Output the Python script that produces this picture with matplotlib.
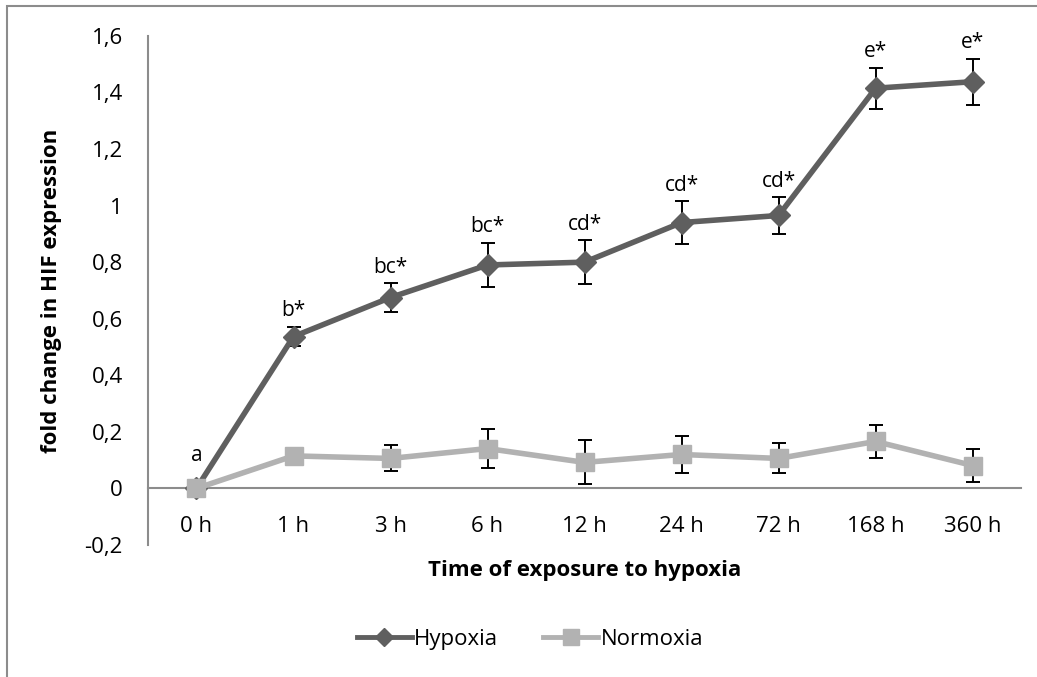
import numpy as np
import matplotlib.pyplot as plt
from matplotlib.patches import Rectangle
from matplotlib.lines import Line2D

plt.rcParams['font.family'] = ['Open Sans', 'DejaVu Sans']

times = ['0 h', '1 h', '3 h', '6 h', '12 h', '24 h', '72 h', '168 h', '360 h']
hypoxia = [0.0, 0.537, 0.675, 0.79, 0.80, 0.94, 0.965, 1.415, 1.438]
hypoxia_err = [0.0, 0.035, 0.05, 0.078, 0.078, 0.075, 0.065, 0.072, 0.081]
normoxia = [0.0, 0.115, 0.106, 0.141, 0.092, 0.12, 0.106, 0.166, 0.081]
normoxia_err = [0.0, 0.0, 0.046, 0.069, 0.078, 0.067, 0.053, 0.057, 0.06]
letters = ['a', 'b*', 'bc*', 'bc*', 'cd*', 'cd*', 'cd*', 'e*', 'e*']

dark = '#5f5f5f'
light = '#b2b2b2'

fig = plt.figure(figsize=(10.37, 6.77), dpi=100)
ax = fig.add_axes([0.1427, 0.195, 0.842, 0.752])

x = np.arange(len(times))

ax.errorbar(x, hypoxia, yerr=hypoxia_err, fmt='none', ecolor='black',
            elinewidth=1.4, capsize=5, capthick=1.4, zorder=2)
ax.errorbar(x, normoxia, yerr=normoxia_err, fmt='none', ecolor='black',
            elinewidth=1.4, capsize=5, capthick=1.4, zorder=2)
ax.plot(x, hypoxia, color=dark, lw=4, marker='D', ms=11, zorder=4,
        label='Hypoxia')
ax.plot(x, normoxia, color=light, lw=4, marker='s', ms=13, zorder=5,
        label='Normoxia')

# significance letters above the hypoxia error bars
for xi, v, e, t in zip(x, hypoxia, hypoxia_err, letters):
    off = 4 if e > 0 else 16
    ax.annotate(t, (xi, v + e), xytext=(0, off), textcoords='offset points',
                ha='center', va='bottom', fontsize=15)

ax.set_xlim(-0.5, len(times) - 0.5)
ax.set_ylim(-0.2, 1.6)
ax.set_xticks(x)
ax.set_xticklabels(times)
ax.set_yticks(np.arange(-0.2, 1.61, 0.2))
ax.set_yticklabels(['-0,2', '0', '0,2', '0,4', '0,6', '0,8', '1', '1,2', '1,4', '1,6'])
ax.tick_params(length=0, labelsize=16)
ax.tick_params(axis='y', pad=18)
ax.tick_params(axis='x', pad=20)

for s in ['top', 'right']:
    ax.spines[s].set_visible(False)
ax.spines['bottom'].set_position(('data', 0))
ax.spines['left'].set_color('#8c8c8c')
ax.spines['bottom'].set_color('#8c8c8c')
ax.spines['left'].set_linewidth(1.5)
ax.spines['bottom'].set_linewidth(1.5)

fig.text(0.05, 0.57, 'fold change in HIF expression', rotation=90,
         ha='center', va='center', fontsize=16, fontweight='bold')
fig.text(0.564, 0.157, 'Time of exposure to hypoxia', ha='center',
         va='center', fontsize=16, fontweight='bold')

handles = [Line2D([], [], color=dark, lw=3.5, marker='D', ms=9),
           Line2D([], [], color=light, lw=3.5, marker='s', ms=11)]
fig.legend(handles, ['Hypoxia', 'Normoxia'], loc='center',
           bbox_to_anchor=(0.511, 0.055), ncol=2, frameon=False,
           fontsize=16, handlelength=2.5, handletextpad=0.1,
           columnspacing=2.0)

fig.patches.append(Rectangle((7 / 1037, -0.1), 1.2, 1 - 6 / 677 + 0.1,
                             transform=fig.transFigure, fill=False,
                             edgecolor='#8c8c8c', lw=1.5))

fig.savefig('out.png', dpi=100)
